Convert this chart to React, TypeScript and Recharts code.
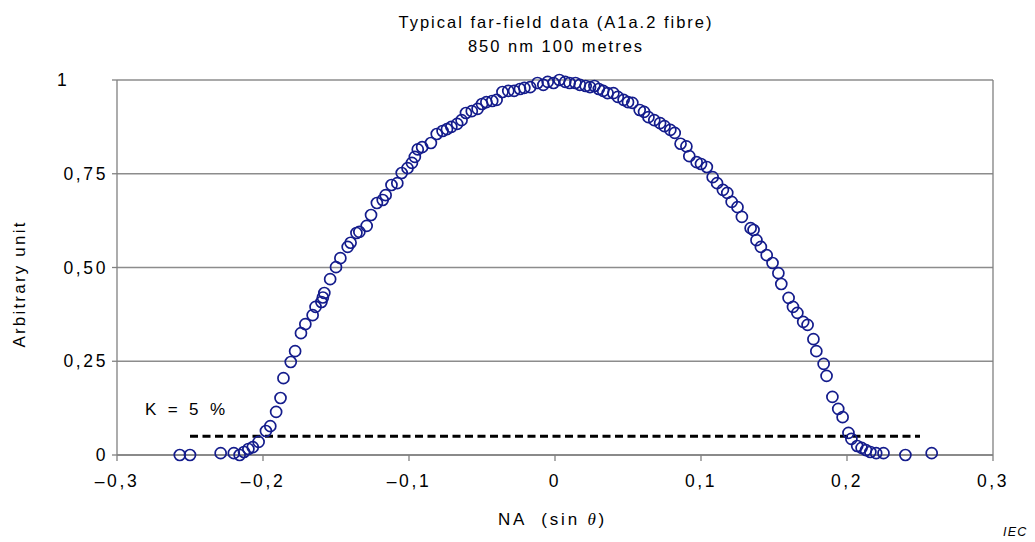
import { ScatterChart, Scatter, XAxis, YAxis, CartesianGrid, ReferenceLine } from "recharts";

// NA (sin theta) values
const naValues = [
  -0.257, -0.25, -0.229, -0.22, -0.216, -0.213, -0.21, -0.207, -0.203, -0.198,
  -0.195, -0.191, -0.188, -0.186, -0.181, -0.178, -0.174, -0.171, -0.166, -0.164,
  -0.16, -0.159, -0.158, -0.154, -0.15, -0.147, -0.142, -0.14, -0.136, -0.134,
  -0.129, -0.126, -0.122, -0.118, -0.116, -0.112, -0.108, -0.105, -0.101, -0.098,
  -0.096, -0.094, -0.091, -0.085, -0.081, -0.077, -0.074, -0.071, -0.067, -0.064,
  -0.061, -0.057, -0.053, -0.05, -0.047, -0.043, -0.04, -0.036, -0.032, -0.028,
  -0.024, -0.021, -0.017, -0.012, -0.008, -0.005, -0.001, 0.003, 0.007, 0.01,
  0.014, 0.017, 0.021, 0.024, 0.027, 0.03, 0.033, 0.036, 0.04, 0.043,
  0.047, 0.05, 0.053, 0.058, 0.061, 0.064, 0.068, 0.072, 0.075, 0.079,
  0.082, 0.086, 0.09, 0.092, 0.097, 0.1, 0.104, 0.108, 0.111, 0.115,
  0.118, 0.121, 0.125, 0.128, 0.134, 0.136, 0.138, 0.141, 0.145, 0.149,
  0.153, 0.155, 0.16, 0.163, 0.166, 0.17, 0.173, 0.177, 0.179, 0.184,
  0.186, 0.19, 0.194, 0.197, 0.201, 0.203, 0.207, 0.21, 0.213, 0.216,
  0.22, 0.225, 0.24, 0.258,
];
// normalised intensity (arbitrary unit)
const intensity = [
  0.0, 0.0, 0.005, 0.005, 0.0, 0.008, 0.016, 0.021, 0.035, 0.064,
  0.077, 0.115, 0.152, 0.205, 0.248, 0.277, 0.325, 0.349, 0.373, 0.395,
  0.408, 0.42, 0.432, 0.469, 0.501, 0.525, 0.555, 0.566, 0.592, 0.595,
  0.611, 0.64, 0.672, 0.68, 0.693, 0.72, 0.725, 0.752, 0.765, 0.779,
  0.795, 0.815, 0.821, 0.832, 0.856, 0.864, 0.869, 0.875, 0.883, 0.893,
  0.912, 0.917, 0.923, 0.936, 0.941, 0.944, 0.947, 0.968, 0.971, 0.971,
  0.976, 0.979, 0.981, 0.992, 0.987, 0.995, 0.992, 1.0, 0.995, 0.992,
  0.992, 0.987, 0.984, 0.981, 0.984, 0.976, 0.971, 0.965, 0.965, 0.955,
  0.947, 0.941, 0.939, 0.92, 0.915, 0.901, 0.893, 0.885, 0.877, 0.867,
  0.859, 0.83, 0.823, 0.797, 0.781, 0.776, 0.768, 0.741, 0.725, 0.707,
  0.699, 0.675, 0.661, 0.635, 0.605, 0.6, 0.573, 0.555, 0.533, 0.512,
  0.485, 0.456, 0.419, 0.395, 0.379, 0.355, 0.347, 0.309, 0.277, 0.243,
  0.211, 0.155, 0.123, 0.101, 0.059, 0.043, 0.024, 0.019, 0.013, 0.008,
  0.005, 0.005, 0.0, 0.005,
];
const xTicks = [-0.3, -0.2, -0.1, 0, 0.1, 0.2, 0.3];
const yTicks = [0, 0.25, 0.5, 0.75, 1];
const kLevel = 0.05;
const kRange = [-0.25, 0.25];

const points = naValues.map((x, i) => ({ x, y: intensity[i] }));

const font = "'Liberation Sans', Arial, sans-serif";
const tickStyle = { letterSpacing: "2.6px" };

const fmtX = (v: number) => {
  if (v === 0) return "0";
  const s = Math.abs(v).toFixed(1).replace(".", ",");
  return v < 0 ? "\u2013" + s : s;
};
const fmtY = (v: number) => (v === 0 ? "0" : v === 1 ? "1" : v.toFixed(2).replace(".", ","));

const Ring = (props: any) => (
  <circle cx={props.cx} cy={props.cy} r={5.5} fill="none" stroke="#141c8c" strokeWidth={1.7} />
);

const XTick = ({ x, y, payload }: any) => (
  <text x={x} y={y} dy={20} textAnchor="middle" fontSize={17.5} fill="#000" fontFamily={font} style={tickStyle}>
    {fmtX(payload.value)}
  </text>
);
const YTick = ({ x, y, payload }: any) =>
  payload.value === 1 ? (
    <text x={49} y={y} dy={6} textAnchor="start" fontSize={17.5} fill="#000" fontFamily={font} style={tickStyle}>
      1
    </text>
  ) : (
    <text x={x + 5} y={y} dy={6} textAnchor="end" fontSize={17.5} fill="#000" fontFamily={font} style={tickStyle}>
      {fmtY(payload.value)}
    </text>
  );

export default function App() {
  return (
    <div style={{ position: "relative", width: 1027, height: 534, background: "#fff", fontFamily: font }}>
      <div
        style={{
          position: "absolute",
          left: 0,
          width: 1096,
          top: 2,
          textAlign: "center",
          fontSize: 16.5,
          lineHeight: "24px",
          letterSpacing: "2px",
        }}
      >
        Typical far-field data (A1a.2 fibre)
        <br />
        850 nm 100 metres
      </div>
      <ScatterChart width={1027} height={534} margin={{ top: 72, right: 42, bottom: 57, left: 0 }}>
        <CartesianGrid horizontal vertical={false} stroke="#8c8c8c" strokeWidth={1.3} />
        <XAxis
          type="number"
          dataKey="x"
          domain={[-0.3, 0.3]}
          ticks={xTicks}
          height={30}
          tickSize={6}
          tickMargin={6}
          stroke="#808080"
          strokeWidth={1.3}
          tick={<XTick />}
          allowDataOverflow
        />
        <YAxis
          type="number"
          dataKey="y"
          domain={[0, 1]}
          ticks={yTicks}
          width={109}
          tickSize={5}
          tickMargin={9}
          stroke="#808080"
          strokeWidth={1.3}
          tick={<YTick />}
        />
        <ReferenceLine x={0.3} stroke="#808080" strokeWidth={1.3} />
        <ReferenceLine
          segment={[
            { x: kRange[0], y: kLevel },
            { x: kRange[1], y: kLevel },
          ]}
          stroke="#000"
          strokeWidth={3}
          strokeDasharray="8 4.5"
        />
        <Scatter data={points} shape={<Ring />} isAnimationActive={false} />
      </ScatterChart>
      <div style={{ position: "absolute", left: 137, top: 392, fontSize: 17, letterSpacing: "2.6px", wordSpacing: "1.5px" }}>
        K = 5 %
      </div>
      <div
        style={{
          position: "absolute",
          left: 490,
          top: 502,
          fontSize: 17,
          letterSpacing: "2.8px",
          whiteSpace: "pre",
        }}
      >
        NA  (sin <i style={{ fontFamily: "'Liberation Serif', serif" }}>θ</i>)
      </div>
      <div
        style={{
          position: "absolute",
          left: 12,
          top: 276,
          fontSize: 17,
          letterSpacing: "2.2px",
          transform: "translate(-50%, -50%) rotate(-90deg)",
          whiteSpace: "nowrap",
        }}
      >
        Arbitrary unit
      </div>
      <div style={{ position: "absolute", left: 995, top: 517, fontSize: 12.5, fontStyle: "italic", letterSpacing: "1.2px" }}>
        IEC
      </div>
    </div>
  );
}
